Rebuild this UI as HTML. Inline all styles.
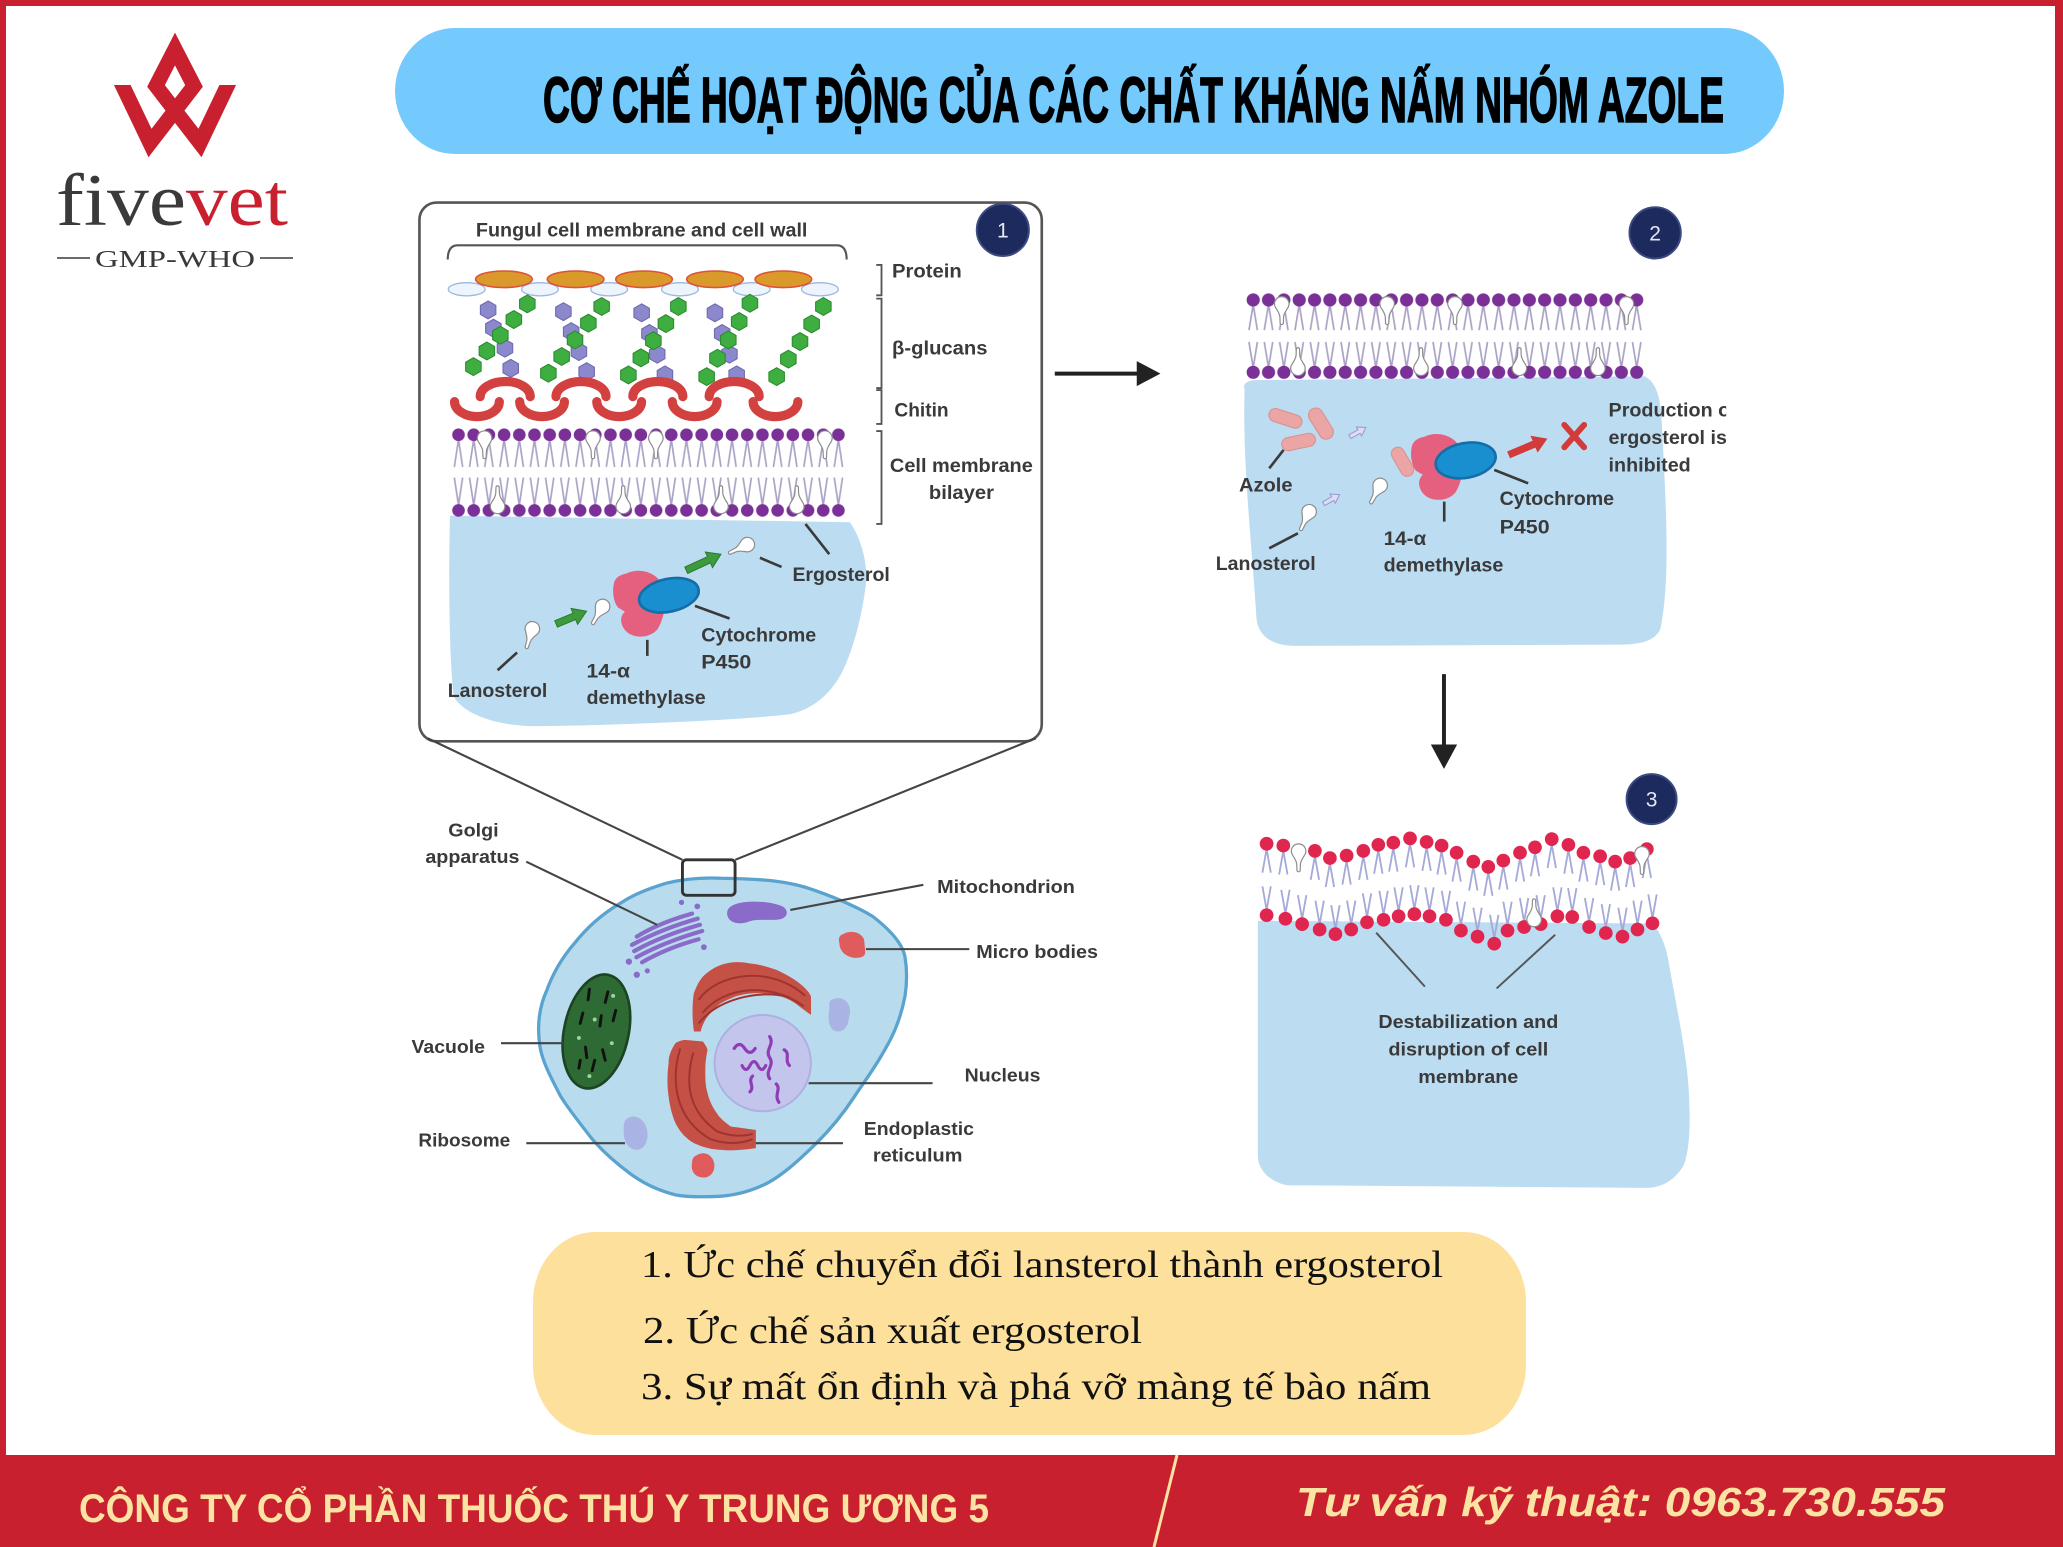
<!DOCTYPE html>
<html><head><meta charset="utf-8"><style>
html,body{margin:0;padding:0;background:#fff;overflow:hidden}
svg{display:block}
.lb{font-family:"Liberation Sans",Arial,sans-serif;font-weight:bold;fill:#3a3a3a}
</style></head><body>
<svg width="2063" height="1547" viewBox="0 0 2063 1547" xmlns="http://www.w3.org/2000/svg">
<defs>
<polygon id="hx" points="0,-6.8 5.89,-3.4 5.89,3.4 0,6.8 -5.89,3.4 -5.89,-3.4"/>
<path id="drop" d="M0,-5.5 A5.5,5.5 0 0 1 5,2.3 C3.5,5 1.6,7 1.4,10 L1.2,15 Q0,16.5 -1.2,15 L-1.4,10 C-1.6,7 -3.5,5 -5,2.3 A5.5,5.5 0 0 1 0,-5.5Z" fill="#fff" stroke="#8c8c8c" stroke-width="0.9"/>
<g id="lipT"><path d="M0,4 L-3.2,22 M0,4 L3.2,22" stroke="#a5aad9" stroke-width="1.4" fill="none"/><circle r="5.2" fill="#e0254f"/></g>
<g id="lipB"><path d="M0,-4 L-3.2,-22 M0,-4 L3.2,-22" stroke="#a5aad9" stroke-width="1.4" fill="none"/><circle r="5.2" fill="#e0254f"/></g>
<pattern id="bl1" x="342.725" y="320" width="11.55" height="80" patternUnits="userSpaceOnUse">
<path d="M5.775,14 L2.6,35 M5.775,14 L8.9,35 M5.775,64 L2.6,43 M5.775,64 L8.9,43" stroke="#aba3c6" stroke-width="1.3" fill="none"/>
<circle cx="5.775" cy="10.5" r="4.8" fill="#7b3098"/><circle cx="5.775" cy="68" r="4.8" fill="#7b3098"/>
</pattern>
<pattern id="bl2" x="946.67" y="218" width="11.66" height="75" patternUnits="userSpaceOnUse">
<path d="M5.83,13.5 L2.6,33 M5.83,13.5 L9,33 M5.83,61.5 L2.6,42 M5.83,61.5 L9,42" stroke="#aba3c6" stroke-width="1.3" fill="none"/>
<circle cx="5.83" cy="10" r="5" fill="#7b3098"/><circle cx="5.83" cy="65" r="5" fill="#7b3098"/>
</pattern>
<path id="enz" d="M476,436 C486,431 500,435 504,446 C507,456 505,470 500,478 C495,485 482,486 476,480 C471,475 471,468 475,465 L470,462 C466,458 465,448 467,442 C469,438 472,437 476,436 Z" fill="#e4607e"/>
<clipPath id="cp2"><rect x="900" y="290" width="412" height="90"/></clipPath>
</defs>

<rect width="2063" height="1547" fill="#fff"/>
<!-- borders -->
<rect x="0" y="0" width="2063" height="6" fill="#c8202e"/>
<rect x="0" y="0" width="6" height="1547" fill="#c8202e"/>
<rect x="2055" y="0" width="8" height="1547" fill="#c8202e"/>

<!-- logo -->
<polyline points="117,74 150,143 194,86 175,49 156,86 200,143 233,74" fill="none" stroke="#c8202e" stroke-width="15" stroke-linejoin="miter" stroke-miterlimit="10"/>
<rect x="95" y="60" width="44" height="25" fill="#fff"/>
<rect x="211" y="60" width="44" height="25" fill="#fff"/>
<text x="56" y="225" font-family="'Liberation Serif',serif" font-size="74" textLength="232" lengthAdjust="spacingAndGlyphs"><tspan fill="#3a3a3a">five</tspan><tspan fill="#c8202e">vet</tspan></text>
<line x1="57" y1="258" x2="90" y2="258" stroke="#3a3a3a" stroke-width="1.5"/>
<line x1="260" y1="258" x2="293" y2="258" stroke="#3a3a3a" stroke-width="1.5"/>
<text x="95" y="267" font-family="'Liberation Serif',serif" font-size="24" fill="#3a3a3a" textLength="160" lengthAdjust="spacingAndGlyphs">GMP-WHO</text>

<!-- title -->
<rect x="395" y="28" width="1389" height="126" rx="60" ry="63" fill="#74cafc"/>
<text x="543" y="122" font-family="'Liberation Sans Narrow','Liberation Sans',sans-serif" font-weight="bold" font-size="64" fill="#000" stroke="#000" stroke-width="1.6" textLength="1181" lengthAdjust="spacingAndGlyphs">CƠ CHẾ HOẠT ĐỘNG CỦA CÁC CHẤT KHÁNG NẤM NHÓM AZOLE</text>

<g transform="scale(1.31569 1.31548)">
<!-- ===== PANEL 1 ===== -->
<rect x="318.8" y="154" width="473" height="409.5" rx="13" fill="none" stroke="#555" stroke-width="2"/>
<text class="lb" x="361.7" y="179.7" font-size="15" textLength="252" lengthAdjust="spacingAndGlyphs">Fungul cell membrane and cell wall</text>
<path d="M340.3,197.3 Q340.3,186.5 348,186.5 L636,186.5 Q643.5,186.5 643.5,197.3" fill="none" stroke="#555" stroke-width="1.6"/>
<circle cx="762.2" cy="174.8" r="19.8" fill="#1d2a5e" stroke="#3b4a80" stroke-width="1.5"/>
<text x="762.2" y="180.5" font-family="'Liberation Sans',sans-serif" font-size="16" fill="#e6e8f2" text-anchor="middle">1</text>

<!-- protein -->
<g fill="#eef4fc" stroke="#9ab8e0" stroke-width="1">
<ellipse cx="354.7" cy="219.9" rx="14" ry="5"/><ellipse cx="410.4" cy="219.9" rx="14" ry="5"/><ellipse cx="463" cy="219.9" rx="14" ry="5"/><ellipse cx="516.8" cy="219.9" rx="14" ry="5"/><ellipse cx="571.3" cy="219.9" rx="14" ry="5"/><ellipse cx="623.2" cy="219.9" rx="14" ry="5"/>
</g>
<g fill="#d99a2b" stroke="#e0513a" stroke-width="1.2">
<ellipse cx="383" cy="212.3" rx="21.5" ry="6.3"/><ellipse cx="437.5" cy="212.3" rx="21.5" ry="6.3"/><ellipse cx="489.5" cy="212.3" rx="21.5" ry="6.3"/><ellipse cx="543.4" cy="212.3" rx="21.5" ry="6.3"/><ellipse cx="595.4" cy="212.3" rx="21.5" ry="6.3"/>
</g>
<!-- beta glucans -->
<g fill="#8c88cc" stroke="#6e68b0" stroke-width="0.8">
<use href="#hx" x="371" y="235.6"/><use href="#hx" x="375" y="249.5"/><use href="#hx" x="383.8" y="264.7"/><use href="#hx" x="388.2" y="280"/>
<use href="#hx" x="428.2" y="236.9"/><use href="#hx" x="434.1" y="252.1"/><use href="#hx" x="440" y="267.3"/><use href="#hx" x="445.9" y="282.5"/>
<use href="#hx" x="487.7" y="237.8"/><use href="#hx" x="493.6" y="253.5"/><use href="#hx" x="499.5" y="269.3"/><use href="#hx" x="505.4" y="285"/>
<use href="#hx" x="543.4" y="237.8"/><use href="#hx" x="548.9" y="253.5"/><use href="#hx" x="554.4" y="269.3"/><use href="#hx" x="559.9" y="285"/>
</g>
<g fill="#3fae40" stroke="#2b8a2f" stroke-width="0.8">
<use href="#hx" x="359.8" y="278.7"/><use href="#hx" x="370.05" y="266.8"/><use href="#hx" x="380.3" y="254.85"/><use href="#hx" x="390.55" y="242.9"/><use href="#hx" x="400.8" y="231"/>
<use href="#hx" x="416.8" y="283.7"/><use href="#hx" x="426.9" y="271"/><use href="#hx" x="437.05" y="258.35"/><use href="#hx" x="447.2" y="245.7"/><use href="#hx" x="457.3" y="233"/>
<use href="#hx" x="477.6" y="285"/><use href="#hx" x="487.1" y="272"/><use href="#hx" x="496.6" y="259"/><use href="#hx" x="506.1" y="246"/><use href="#hx" x="515.6" y="233"/>
<use href="#hx" x="537.1" y="286.3"/><use href="#hx" x="545.3" y="272.35"/><use href="#hx" x="553.55" y="258.4"/><use href="#hx" x="561.8" y="244.45"/><use href="#hx" x="570" y="230.5"/>
<use href="#hx" x="590.3" y="286.3"/><use href="#hx" x="599.2" y="273"/><use href="#hx" x="608.05" y="259.65"/><use href="#hx" x="616.9" y="246.3"/><use href="#hx" x="625.8" y="233"/>
</g>
<!-- chitin -->
<g fill="none" stroke="#d2413f" stroke-width="7" stroke-linecap="round">
<path d="M365,301.5 A19,11.5 0 0 1 403,301.5"/><path d="M422.6,301.5 A19,11.5 0 0 1 460.6,301.5"/><path d="M481,301.5 A19,11.5 0 0 1 519,301.5"/><path d="M539,301.5 A19,11.5 0 0 1 577,301.5"/>
<path d="M345.5,305.3 A17,11.4 0 0 0 379.5,305.3"/><path d="M395,305.3 A17,11.4 0 0 0 429,305.3"/><path d="M453.6,305.3 A17,11.4 0 0 0 487.6,305.3"/><path d="M511,305.3 A17,11.4 0 0 0 545,305.3"/><path d="M572.4,305.3 A17,11.4 0 0 0 606.4,305.3"/>
</g>
<!-- right brackets -->
<g fill="none" stroke="#555" stroke-width="1.4">
<path d="M666,201.4 L670,201.4 L670,224.5 L666,224.5"/>
<path d="M666,227 L670,227 L670,295 L666,295"/>
<path d="M666,296.5 L670,296.5 L670,322.3 L666,322.3"/>
<path d="M666,327.7 L670,327.7 L670,398.3 L666,398.3"/>
</g>
<text class="lb" x="678" y="211" font-size="15" textLength="53" lengthAdjust="spacingAndGlyphs">Protein</text>
<text class="lb" x="678" y="269.3" font-size="15" textLength="72.6" lengthAdjust="spacingAndGlyphs">β-glucans</text>
<text class="lb" x="679.8" y="316.8" font-size="15" textLength="41.2" lengthAdjust="spacingAndGlyphs">Chitin</text>
<text class="lb" x="676.4" y="358.7" font-size="15" textLength="108.6" lengthAdjust="spacingAndGlyphs">Cell membrane</text>
<text class="lb" x="706" y="379.3" font-size="15" textLength="49.5" lengthAdjust="spacingAndGlyphs">bilayer</text>

<!-- cytoplasm 1 -->
<path d="M342,392 L646,397 C655,410 660,430 658,445 C655,470 648,495 640,511 C630,530 615,540 600,543 C560,548 450,552 403,552 C380,551 355,545 345,530 C341,500 341,430 342,392 Z" fill="#bcdcf2"/>
<rect x="342.725" y="320" width="300.3" height="80" fill="url(#bl1)"/>
<use href="#drop" transform="translate(368.3,333)"/><use href="#drop" transform="translate(450.7,333)"/><use href="#drop" transform="translate(498.5,333)"/><use href="#drop" transform="translate(627,333)"/>
<use href="#drop" transform="translate(378.2,385) rotate(180)"/><use href="#drop" transform="translate(473.7,385) rotate(180)"/><use href="#drop" transform="translate(548,385) rotate(180)"/><use href="#drop" transform="translate(605.6,385) rotate(180)"/>

<!-- enzyme 1 -->
<use href="#enz"/>
<ellipse cx="508.4" cy="452.5" rx="23" ry="12.5" transform="rotate(-12 508.4 452.5)" fill="#1a8fd0" stroke="#146ea8" stroke-width="2"/>
<use href="#drop" transform="translate(404.6,478) rotate(17)"/>
<use href="#drop" transform="translate(458,461) rotate(30)"/>
<use href="#drop" transform="translate(568,414) rotate(65)"/>
<g fill="#3d9b3d" stroke="#2c7a2c" stroke-width="0.8">
<path transform="translate(422.7,474.3) rotate(-22.6)" d="M0,-2.6 L15,-2.6 L15,-6.5 L25,0 L15,6.5 L15,2.6 L0,2.6 Z"/>
<path transform="translate(521.6,433.5) rotate(-24.8)" d="M0,-2.6 L19,-2.6 L19,-6.5 L29,0 L19,6.5 L19,2.6 L0,2.6 Z"/>
</g>
<g stroke="#3a3a3a" stroke-width="2" fill="none">
<line x1="612.2" y1="398.3" x2="630.3" y2="421.3"/><line x1="577.6" y1="424" x2="594" y2="431"/>
<line x1="528.2" y1="460.6" x2="554.5" y2="470.2"/><line x1="492" y1="486.4" x2="492" y2="498.6"/>
<line x1="393" y1="496" x2="378.2" y2="509.5"/>
</g>
<text class="lb" x="602.3" y="441.6" font-size="15" textLength="74" lengthAdjust="spacingAndGlyphs">Ergosterol</text>
<text class="lb" x="533" y="487.8" font-size="15" textLength="87.4" lengthAdjust="spacingAndGlyphs">Cytochrome</text>
<text class="lb" x="533" y="508.2" font-size="15" textLength="38" lengthAdjust="spacingAndGlyphs">P450</text>
<text class="lb" x="445.8" y="515" font-size="15" textLength="33" lengthAdjust="spacingAndGlyphs">14-α</text>
<text class="lb" x="445.8" y="535.3" font-size="15" textLength="90.6" lengthAdjust="spacingAndGlyphs">demethylase</text>
<text class="lb" x="340.3" y="529.8" font-size="15" textLength="75.7" lengthAdjust="spacingAndGlyphs">Lanosterol</text>

<!-- zoom lines & cell -->
<g stroke="#444" stroke-width="1.6" fill="none">
<line x1="325" y1="561.2" x2="518.7" y2="653.6"/><line x1="787.3" y1="561.2" x2="558.8" y2="653.6"/>
</g>
<path d="M548.3,667.6 C580,668 600,670 618,676.4 C640,684 656,692 663.4,696.7 C678,708 686,718 687.8,727.1 C690,740 689,750 687.8,757.5 C685,772 680,785 673.9,795.5 C665,812 657,822 649.5,833.5 C640,848 630,860 618,871.5 C606,883 595,893 583.2,899.4 C570,906 558,909 544.8,909.5 C533,910 522,910 513.4,908.3 C500,905 488,899 478.5,891.8 C468,884 458,875 450.6,866.5 C440,853 432,843 426.2,833.5 C418,818 412,806 410.4,795.5 C408,780 410,765 415.7,752.5 C421,738 428,727 436.7,717 C447,704 459,694 471.5,686.6 C483,679 495,675 506.4,671.4 C520,668 535,667 548.3,667.6 Z" fill="#b8dcee" stroke="#5aa3cf" stroke-width="2.5"/>
<rect x="518.7" y="653.6" width="40" height="27" rx="3" fill="none" stroke="#333" stroke-width="2.2"/>
<!-- golgi -->
<g fill="none" stroke="#8a6bc9" stroke-width="3.2" stroke-linecap="round">
<path d="M484,712 Q500.6,701.6 526,694.5"/><path d="M480.3,718.3 Q502.3,706.3 530.3,698.3"/><path d="M482,723 Q504,711 532,703"/><path d="M483.7,727.7 Q505.7,715.7 533.7,707.7"/><path d="M488,731.5 Q507.4,720.4 531,714"/>
</g>
<g fill="#8a6bc9"><circle cx="478" cy="731" r="2.4"/><circle cx="484" cy="741" r="2.4"/><circle cx="535" cy="720" r="2.2"/><circle cx="530" cy="689" r="2.2"/><circle cx="518" cy="686" r="2"/><circle cx="492" cy="738" r="2"/></g>
<path d="M553,692 C556,684 580,684 592,688 C600,690 600,698 592,699 C580,700 575,698 568,701 C558,704 551,699 553,692Z" fill="#8a6bc9"/>
<path d="M641,710 C648,706 657,710 657,716 C657,722 660,727 653,728 C645,729 638,724 638,717 C637,713 638,711 641,710 Z" fill="#e05c5c"/>
<!-- vacuole -->
<ellipse cx="453.3" cy="784.1" rx="24.5" ry="44" transform="rotate(12 453.3 784.1)" fill="#2d6a34" stroke="#1c4422" stroke-width="2"/>
<g stroke="#111" stroke-width="2.2" stroke-linecap="round">
<line x1="447" y1="760" x2="448" y2="752"/><line x1="460" y1="762" x2="462" y2="754"/><line x1="441" y1="778" x2="443" y2="770"/><line x1="456" y1="780" x2="457" y2="772"/><line x1="466" y1="776" x2="468" y2="768"/><line x1="445" y1="796" x2="446" y2="804"/><line x1="458" y1="798" x2="460" y2="806"/><line x1="450" y1="814" x2="452" y2="806"/><line x1="440" y1="812" x2="441" y2="806"/>
</g>
<g fill="#9ed39e"><circle cx="466" cy="757" r="1.5"/><circle cx="452" cy="775" r="1.5"/><circle cx="440" cy="789" r="1.5"/><circle cx="465" cy="793" r="1.5"/><circle cx="448" cy="818" r="1.5"/></g>
<!-- ER -->
<path d="M527.4,755 C530,748 532,745 534.3,742.3 C540,737 544,735 548.3,733.4 C556,731 562,731 569.2,732.2 C577,733 584,735 590.2,737.3 C598,741 603,744 607.6,747.4 C612,751 615,754 616.4,757.5 L616.4,771.5 C613,769 610,767 607.6,765.1 C603,761 598,759 593.7,757.5 C588,756 582,755 576.2,755 C570,755 564,756 558.8,757.5 C553,760 548,762 544.8,765.1 C541,769 538,772 536.1,775.3 C534,779 533,782 532.6,784.1 L527.4,784.1 C526,774 526,763 527.4,755 Z" fill="#c55045"/>
<path d="M513.4,793 C510,798 508,803 508.2,808.2 C507,817 507,826 508.2,833.5 C509,841 511,848 513.4,853.8 C517,861 522,866 527.4,869 C534,872 541,874 548.3,874.1 C557,875 566,874 574.5,872.8 L574.5,858.9 C567,858 561,857 555.3,856.3 C551,853 547,850 544.8,846.2 C541,841 539,836 537.8,831 C536,825 536,819 536.1,813.3 C536,807 537,802 537.8,798.1 C537,795 535,793 534.3,791.7 L520.4,790.5 C517,791 515,792 513.4,793 Z" fill="#c55045"/>
<g fill="none" stroke="#9e3430" stroke-width="1.5">
<path d="M531,760 C545,740 585,733 612,757"/><path d="M534,770 C550,750 585,746 611,765"/><path d="M531,778 C545,760 575,752 600,758"/>
<path d="M517,797 C510,820 512,850 540,866 C552,870 562,870 572,866"/><path d="M527,800 C520,825 524,845 545,860 C555,864 565,864 572,862"/>
</g>
<!-- nucleus -->
<circle cx="579.7" cy="808.2" r="36.6" fill="#c3c5ec" stroke="#adb0e0" stroke-width="1.5"/>
<g fill="none" stroke="#8f3db5" stroke-width="2.4" stroke-linecap="round">
<path d="M558,797 q4,-6 8,0 t8,0"/><path d="M564,810 q3,6 6,0 t6,0 t6,0"/><path d="M585,788 c4,6 -4,10 0,16 s-4,10 0,16"/><path d="M596,798 c5,3 0,8 4,12"/><path d="M572,818 c-4,4 2,8 -2,12"/><path d="M590,824 c4,4 -2,8 2,14"/>
</g>
<path d="M632,760 C640,756 647,762 646,770 C645,777 644,783 638,784 C631,785 629,777 630,770 C631,765 629,762 632,760 Z" fill="#aab4e4"/>
<path d="M477,850 C484,846 491,852 492,860 C493,867 490,874 484,874 C477,874 474,867 474,860 C474,855 474,852 477,850 Z" fill="#aab4e4"/>
<path d="M530,878 C537,874 543,880 543,886 C543,892 539,896 533,895 C527,894 525,889 526,884 C526,881 527,879 530,878 Z" fill="#e05c5c"/>
<g stroke="#444" stroke-width="1.6">
<line x1="400" y1="655" x2="499.4" y2="703"/><line x1="600.7" y1="691.7" x2="701.8" y2="672.6"/><line x1="658.2" y1="721.5" x2="736.7" y2="721.5"/><line x1="380.8" y1="793" x2="428" y2="793"/><line x1="614.6" y1="823.4" x2="708.8" y2="823.4"/><line x1="400" y1="869" x2="475" y2="869"/><line x1="574.4" y1="869" x2="640.7" y2="869"/>
</g>
<text class="lb" x="340.7" y="636" font-size="14" textLength="38.3" lengthAdjust="spacingAndGlyphs">Golgi</text>
<text class="lb" x="323.3" y="656.2" font-size="14" textLength="71.5" lengthAdjust="spacingAndGlyphs">apparatus</text>
<text class="lb" x="712.3" y="679" font-size="14" textLength="104.7" lengthAdjust="spacingAndGlyphs">Mitochondrion</text>
<text class="lb" x="742" y="728.4" font-size="14" textLength="92.5" lengthAdjust="spacingAndGlyphs">Micro bodies</text>
<text class="lb" x="312.8" y="800.6" font-size="14" textLength="55.8" lengthAdjust="spacingAndGlyphs">Vacuole</text>
<text class="lb" x="733.2" y="822.1" font-size="14" textLength="57.6" lengthAdjust="spacingAndGlyphs">Nucleus</text>
<text class="lb" x="318" y="871.5" font-size="14" textLength="69.8" lengthAdjust="spacingAndGlyphs">Ribosome</text>
<text class="lb" x="656.5" y="862.7" font-size="14" textLength="83.8" lengthAdjust="spacingAndGlyphs">Endoplastic</text>
<text class="lb" x="663.4" y="883" font-size="14" textLength="68.1" lengthAdjust="spacingAndGlyphs">reticulum</text>

<!-- arrows between panels -->
<line x1="801.7" y1="284" x2="868" y2="284" stroke="#222" stroke-width="3"/>
<polygon points="864,274.5 882,284 864,293.5" fill="#222"/>
<line x1="1097.5" y1="512.5" x2="1097.5" y2="568" stroke="#222" stroke-width="3"/>
<polygon points="1087.5,566 1097.5,584.5 1107.5,566" fill="#222"/>

<!-- ===== PANEL 2 ===== -->
<circle cx="1258" cy="177" r="19.5" fill="#1d2a5e" stroke="#3b4a80" stroke-width="1.5"/>
<text x="1258" y="182.7" font-family="'Liberation Sans',sans-serif" font-size="16" fill="#e6e8f2" text-anchor="middle">2</text>
<path d="M946,296 C944,292 948,289 955,289 L1250,286 C1258,290 1262,300 1263,320 C1266,380 1270,440 1262,478 C1258,488 1245,490 1230,490 L985,491 C965,491 956,482 955,470 C952,420 944,350 946,296 Z" fill="#bcdcf2"/>
<rect x="946.67" y="218" width="303.2" height="75" fill="url(#bl2)"/>
<use href="#drop" transform="translate(974.2,231)"/><use href="#drop" transform="translate(1054.3,231)"/><use href="#drop" transform="translate(1105.9,231)"/><use href="#drop" transform="translate(1236.2,231)"/>
<use href="#drop" transform="translate(986.5,280) rotate(180)"/><use href="#drop" transform="translate(1080,280) rotate(180)"/><use href="#drop" transform="translate(1154.8,280) rotate(180)"/><use href="#drop" transform="translate(1214.5,280) rotate(180)"/>
<g fill="#eba5a5" stroke="#d89090" stroke-width="0.8">
<rect x="-13" y="-5" width="26" height="10" rx="5" transform="translate(977,318) rotate(18)"/>
<rect x="-13" y="-5.5" width="26" height="11" rx="5.5" transform="translate(1004,322) rotate(58)"/>
<rect x="-13" y="-5" width="26" height="10" rx="5" transform="translate(987,336) rotate(-12)"/>
</g>
<g fill="#dcdcf4" stroke="#9a9ad0" stroke-width="0.8">
<path transform="translate(1026,332) rotate(-30)" d="M0,-1.6 L8,-1.6 L8,-4 L14,0 L8,4 L8,1.6 L0,1.6 Z"/>
<path transform="translate(1006,383) rotate(-30)" d="M0,-1.6 L8,-1.6 L8,-4 L14,0 L8,4 L8,1.6 L0,1.6 Z"/>
</g>
<use href="#drop" transform="translate(995,389) rotate(25)"/>
<use href="#drop" transform="translate(1049,369) rotate(28)"/>
<use href="#enz" transform="translate(606.5,-104)"/>
<rect x="-12" y="-5" width="24" height="10" rx="5" transform="translate(1066,351) rotate(60)" fill="#eba5a5" stroke="#d89090" stroke-width="0.8"/>
<ellipse cx="1114" cy="350" rx="23" ry="13.2" transform="rotate(-10 1114 350)" fill="#1a8fd0" stroke="#146ea8" stroke-width="2"/>
<path transform="translate(1146.6,345.8) rotate(-22.8)" d="M0,-2.8 L21,-2.8 L21,-7 L32,0 L21,7 L21,2.8 L0,2.8 Z" fill="#d33a3a"/>
<g stroke="#d33a3a" stroke-width="4.5" stroke-linecap="round"><line x1="1189" y1="323" x2="1204" y2="340"/><line x1="1204" y1="323" x2="1189" y2="340"/></g>
<g stroke="#3a3a3a" stroke-width="2">
<line x1="975.6" y1="342" x2="964.7" y2="356"/><line x1="986.5" y1="405.4" x2="964.7" y2="416.8"/><line x1="1135.7" y1="357.2" x2="1161.5" y2="367.4"/><line x1="1097.7" y1="381.3" x2="1097.7" y2="396.5"/>
</g>
<text class="lb" x="941.7" y="373.7" font-size="15" textLength="40.7" lengthAdjust="spacingAndGlyphs">Azole</text>
<text class="lb" x="924" y="433.2" font-size="15" textLength="76" lengthAdjust="spacingAndGlyphs">Lanosterol</text>
<text class="lb" x="1051.6" y="414.2" font-size="15" textLength="32.4" lengthAdjust="spacingAndGlyphs">14-α</text>
<text class="lb" x="1051.6" y="434.5" font-size="15" textLength="91" lengthAdjust="spacingAndGlyphs">demethylase</text>
<text class="lb" x="1139.8" y="383.8" font-size="15" textLength="87" lengthAdjust="spacingAndGlyphs">Cytochrome</text>
<text class="lb" x="1139.8" y="405.4" font-size="15" textLength="38" lengthAdjust="spacingAndGlyphs">P450</text>
<g clip-path="url(#cp2)">
<text class="lb" x="1222.6" y="316.7" font-size="15">Production of</text>
<text class="lb" x="1222.6" y="337.5" font-size="15">ergosterol is</text>
<text class="lb" x="1222.6" y="358.5" font-size="15">inhibited</text>
</g>

<!-- ===== PANEL 3 ===== -->
<circle cx="1255.3" cy="607.5" r="19" fill="#1d2a5e" stroke="#3b4a80" stroke-width="1.5"/>
<text x="1255.3" y="613.2" font-family="'Liberation Sans',sans-serif" font-size="16" fill="#e6e8f2" text-anchor="middle">3</text>
<path d="M956,700 L1257,702 C1262,710 1266,718 1268,730 C1275,770 1284,810 1284,841 C1285,860 1283,880 1279,887 C1272,898 1262,903 1251,903 L978,901 C965,898 957,890 956,880 Z" fill="#bcdcf2"/>
<use href="#lipT" x="962.7" y="641.4"/><use href="#lipT" x="975.4" y="642.8"/><use href="#lipT" x="999.4" y="646.8"/><use href="#lipT" x="1010.8" y="652.3"/><use href="#lipT" x="1023.5" y="650.4"/><use href="#lipT" x="1036.2" y="646.8"/><use href="#lipT" x="1047.6" y="642.2"/><use href="#lipT" x="1059" y="640.6"/><use href="#lipT" x="1071.7" y="637.3"/><use href="#lipT" x="1084.3" y="640"/><use href="#lipT" x="1095.7" y="642.8"/><use href="#lipT" x="1107.1" y="648.2"/><use href="#lipT" x="1119.8" y="655"/><use href="#lipT" x="1131.2" y="659"/><use href="#lipT" x="1142.6" y="654.2"/><use href="#lipT" x="1155.3" y="648.2"/><use href="#lipT" x="1166.7" y="644.1"/><use href="#lipT" x="1179.4" y="637.9"/><use href="#lipT" x="1192.1" y="642.2"/><use href="#lipT" x="1203.5" y="648.2"/><use href="#lipT" x="1216.2" y="650.9"/><use href="#lipT" x="1227.6" y="655"/><use href="#lipT" x="1239" y="652.3"/><use href="#lipT" x="1251.7" y="645.5"/>
<use href="#lipB" x="962.7" y="695.7"/><use href="#lipB" x="977" y="698.4"/><use href="#lipB" x="989.7" y="702.5"/><use href="#lipB" x="1003" y="706.6"/><use href="#lipB" x="1015" y="710.1"/><use href="#lipB" x="1027" y="706.6"/><use href="#lipB" x="1039" y="701.1"/><use href="#lipB" x="1051.6" y="699.2"/><use href="#lipB" x="1063" y="696.5"/><use href="#lipB" x="1075" y="694.9"/><use href="#lipB" x="1086.5" y="696.5"/><use href="#lipB" x="1099" y="699.2"/><use href="#lipB" x="1110.4" y="707.4"/><use href="#lipB" x="1123" y="712"/><use href="#lipB" x="1135.7" y="717.4"/><use href="#lipB" x="1145.8" y="707.4"/><use href="#lipB" x="1158.4" y="704.7"/><use href="#lipB" x="1171" y="702.5"/><use href="#lipB" x="1183.7" y="696.5"/><use href="#lipB" x="1195" y="697.1"/><use href="#lipB" x="1207.8" y="704.7"/><use href="#lipB" x="1220.5" y="709.3"/><use href="#lipB" x="1233.2" y="712"/><use href="#lipB" x="1244.6" y="706.6"/><use href="#lipB" x="1256" y="701.9"/>
<use href="#drop" transform="translate(987,647)"/>
<use href="#drop" transform="translate(1248,649)"/>
<use href="#drop" transform="translate(1166,699) rotate(180)"/>
<g stroke="#555" stroke-width="1.5"><line x1="1046" y1="709" x2="1083" y2="750"/><line x1="1182" y1="710.6" x2="1137.5" y2="751.4"/></g>
<text class="lb" x="1116" y="781.3" font-size="14" text-anchor="middle" textLength="136.8" lengthAdjust="spacingAndGlyphs">Destabilization and</text>
<text class="lb" x="1116" y="802.4" font-size="14" text-anchor="middle" textLength="121.6" lengthAdjust="spacingAndGlyphs">disruption of cell</text>
<text class="lb" x="1116" y="823.3" font-size="14" text-anchor="middle" textLength="76" lengthAdjust="spacingAndGlyphs">membrane</text>
</g>

<!-- summary box -->
<rect x="533" y="1232" width="993" height="203" rx="62" ry="70" fill="#fde09b"/>
<g font-family="'Liberation Serif',serif" font-size="38" fill="#111">
<text x="641" y="1277" textLength="802" lengthAdjust="spacingAndGlyphs">1. Ức chế chuyển đổi lansterol thành ergosterol</text>
<text x="643" y="1343" textLength="499" lengthAdjust="spacingAndGlyphs">2. Ức chế sản xuất ergosterol</text>
<text x="641" y="1399" textLength="790" lengthAdjust="spacingAndGlyphs">3. Sự mất ổn định và phá vỡ màng tế bào nấm</text>
</g>

<!-- footer -->
<rect x="0" y="1455" width="2063" height="92" fill="#c8202e"/>
<line x1="1177" y1="1455" x2="1154" y2="1547" stroke="#fbe3a3" stroke-width="3"/>
<text x="79" y="1522" font-family="'Liberation Sans Narrow','Liberation Sans',sans-serif" font-weight="bold" font-size="40" fill="#fbe3a3" textLength="910" lengthAdjust="spacingAndGlyphs">CÔNG TY CỔ PHẦN THUỐC THÚ Y TRUNG ƯƠNG 5</text>
<text x="1296" y="1516" font-family="'Liberation Sans Narrow','Liberation Sans',sans-serif" font-weight="bold" font-style="italic" font-size="41" fill="#fbe3a3" textLength="649" lengthAdjust="spacingAndGlyphs">Tư vấn kỹ thuật: 0963.730.555</text>
</svg>
</body></html>
